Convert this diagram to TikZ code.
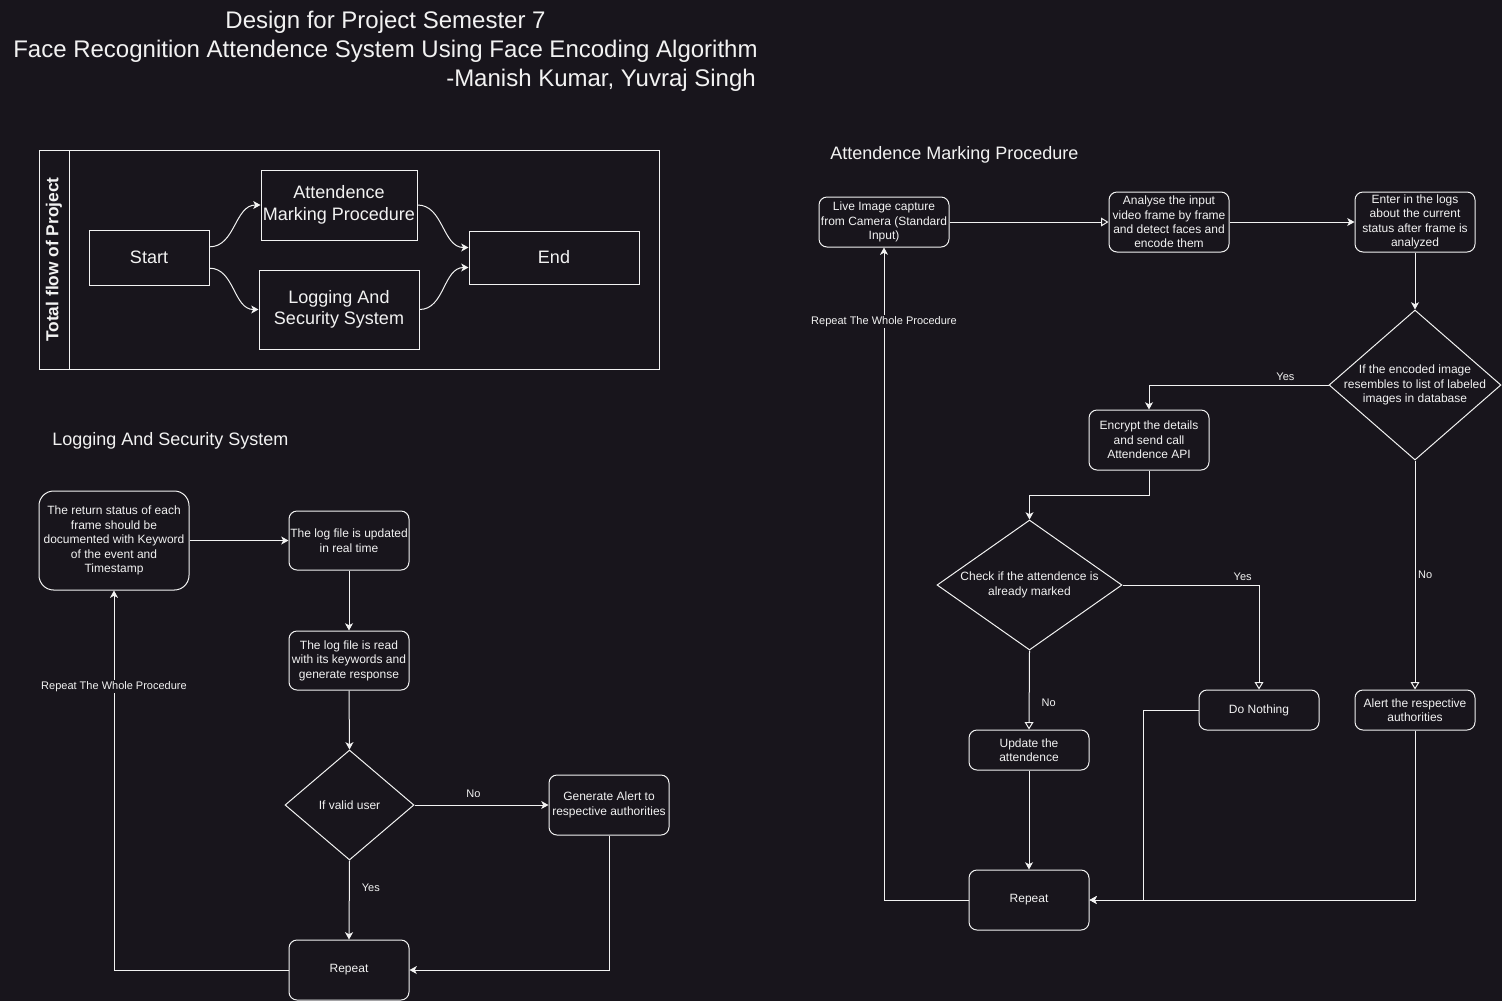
\documentclass[tikz,border=0pt]{standalone}
\usepackage{fontspec}
\setmainfont{Liberation Sans}
\usetikzlibrary{arrows.meta,shapes.geometric}
\definecolor{bgcol}{HTML}{18151C}
\definecolor{ink}{HTML}{F2F2F2}

\begin{document}
\begin{tikzpicture}[x=0.75pt,y=-0.75pt,
  every node/.style={text=ink, inner sep=0pt},
  sz/.style 2 args={minimum width=#1*0.75pt, minimum height=#2*0.75pt},
  box/.style={draw=ink, line width=0.75pt, align=center,
    font=\fontsize{9}{10.8}\selectfont},
  rbox/.style={box, rounded corners=6pt},
  bigbox/.style={draw=ink, line width=0.75pt, align=center,
    font=\fontsize{13.5}{16.2}\selectfont},
  decision/.style={draw=ink, line width=0.75pt, diamond},
  dtext/.style={align=center, font=\fontsize{9}{10.8}\selectfont},
  heading/.style={anchor=west, font=\fontsize{13.5}{16.2}\selectfont},
  elabel/.style={fill=bgcol, inner sep=1pt, font=\fontsize{8.25}{9.9}\selectfont},
  flow/.style={draw=ink, line width=0.75pt,
    -{Stealth[length=5.5pt,width=6pt,inset=1.5pt]}},
  hollow/.style={draw=ink, line width=0.75pt,
    -{Triangle[open,length=5.5pt,width=6.5pt]}},
]
\fill[bgcol] (0,0) rectangle (1502,1001);
\useasboundingbox (0,0) rectangle (1502,1001);

% title
\node[font=\fontsize{18}{21.6}\selectfont] (title1) at (385.5,22) {Design for Project Semester 7};
\node[font=\fontsize{18}{21.6}\selectfont] (title2) at (385.5,51) {Face Recognition Attendence System Using Face Encoding Algorithm};
\node[font=\fontsize{18}{21.6}\selectfont, anchor=east] (title3) at (756,80) {-Manish Kumar, Yuvraj Singh};

% total flow of project
\node[draw=ink, line width=0.75pt, sz={620}{219}] (pool) at (349,259.5) {};
\node[draw=ink, line width=0.75pt, sz={30}{219}, anchor=west] (lane) at (pool.west) {};
\node[rotate=90, font=\bfseries\fontsize{13}{15.6}\selectfont] (lanetitle) at (lane) {Total flow of Project};
\node[bigbox, sz={120}{55}] (start) at (149,257.5) {Start};
\node[bigbox, sz={156}{70}] (att) at (339,205) {Attendence\\Marking Procedure};
\node[bigbox, sz={160}{79}] (log) at (339,309.5) {Logging And\\Security System};
\node[bigbox, sz={170}{53}] (end) at (554,257.5) {End};

\draw[flow] ([yshift=8pt]start.east) to[out=0,in=180] (att.west);
\draw[flow] ([yshift=-8pt]start.east) to[out=0,in=180] (log.west);
\draw[flow] (att.east) to[out=0,in=180] ([yshift=7.5pt]end.west);
\draw[flow] (log.east) to[out=0,in=180] ([yshift=-7.5pt]end.west);

% attendence marking procedure
\node[heading] (amphead) at (830,155) {Attendence Marking Procedure};
\node[rbox, sz={130}{50}] (live) at (884,222) {Live Image capture\\from Camera (Standard\\Input)};
\node[rbox, sz={120}{60}] (analyse) at (1169,222) {Analyse the input\\video frame by frame\\and detect faces and\\encode them};
\node[rbox, sz={120}{60}] (logs) at (1415,222) {Enter in the logs\\about the current\\status after frame is\\analyzed};
\node[decision, sz={172}{150}, label={[dtext]center:If the encoded image\\resembles to list of labeled\\images in database}] (match) at (1415,385) {};
\node[rbox, sz={120}{60}] (encrypt) at (1149,440) {Encrypt the details\\and send call\\Attendence API};
\node[decision, sz={185}{130}, label={[dtext]center:Check if the attendence is\\already marked}] (marked) at (1029.5,585) {};
\node[rbox, sz={120}{40}] (nothing) at (1259,710) {Do Nothing};
\node[rbox, sz={120}{40}] (alert) at (1415,710) {Alert the respective\\authorities};
\node[rbox, sz={120}{40}] (update) at (1029,750) {Update the\\attendence};
\node[rbox, sz={120}{60}] (repeat) at (1029,900) {Repeat};

\draw[hollow] (live.east) -- (analyse.west);
\draw[flow] (analyse.east) -- (logs.west);
\draw[flow] (logs.south) -- (match.north);
\draw[flow] (match.west) -| node[elabel, pos=0.12, above=2pt] {Yes} (encrypt.north);
\draw[hollow] (match.south) -- node[elabel, pos=0.5, right=1pt] {No} (alert.north);
\draw[flow] (encrypt.south) -- ++(0,25) -| (marked.north);
\draw[hollow] (marked.east) -| node[elabel, pos=0.44, above=2pt] {Yes} (nothing.north);
\draw[hollow] (marked.south) -- node[elabel, pos=0.66, right=8pt] {No} (update.north);
\draw[flow] (update.south) -- (repeat.north);
\draw[flow] (nothing.west) -- ++(-55,0) |- (repeat.east);
\draw[flow] (alert.south) |- (repeat.east);
\draw[flow] (repeat.west) -| node[elabel, pos=0.943] {Repeat The Whole Procedure} (live.south);

% logging and security system
\node[heading] (loghead) at (52,441) {Logging And Security System};
\node[rbox, rounded corners=11pt, sz={150}{99}] (status) at (114,540.5) {The return status of each\\frame should be\\documented with Keyword\\of the event and\\Timestamp};
\node[rbox, sz={120}{59}] (updated) at (349,540.5) {The log file is updated\\in real time};
\node[rbox, sz={120}{59}] (readlog) at (349,660.5) {The log file is read\\with its keywords and\\generate response};
\node[decision, sz={129}{110}, label={[dtext]center:If valid user}] (valid) at (349.5,805) {};
\node[rbox, sz={120}{60}] (genalert) at (609,805) {Generate Alert to\\respective authorities};
\node[rbox, sz={120}{60}] (repeatlog) at (349,970) {Repeat};

\draw[flow] (status.east) -- (updated.west);
\draw[flow] (updated.south) -- (readlog.north);
\draw[flow] (readlog.south) -- (valid.north);
\draw[flow] (valid.east) -- node[elabel, pos=0.44, above=4pt] {No} (genalert.west);
\draw[flow] (valid.south) -- node[elabel, pos=0.35, right=8pt] {Yes} (repeatlog.north);
\draw[flow] (genalert.south) |- (repeatlog.east);
\draw[flow] (repeatlog.west) -| node[elabel, pos=0.874] {Repeat The Whole Procedure} (status.south);
\end{tikzpicture}
\end{document}
